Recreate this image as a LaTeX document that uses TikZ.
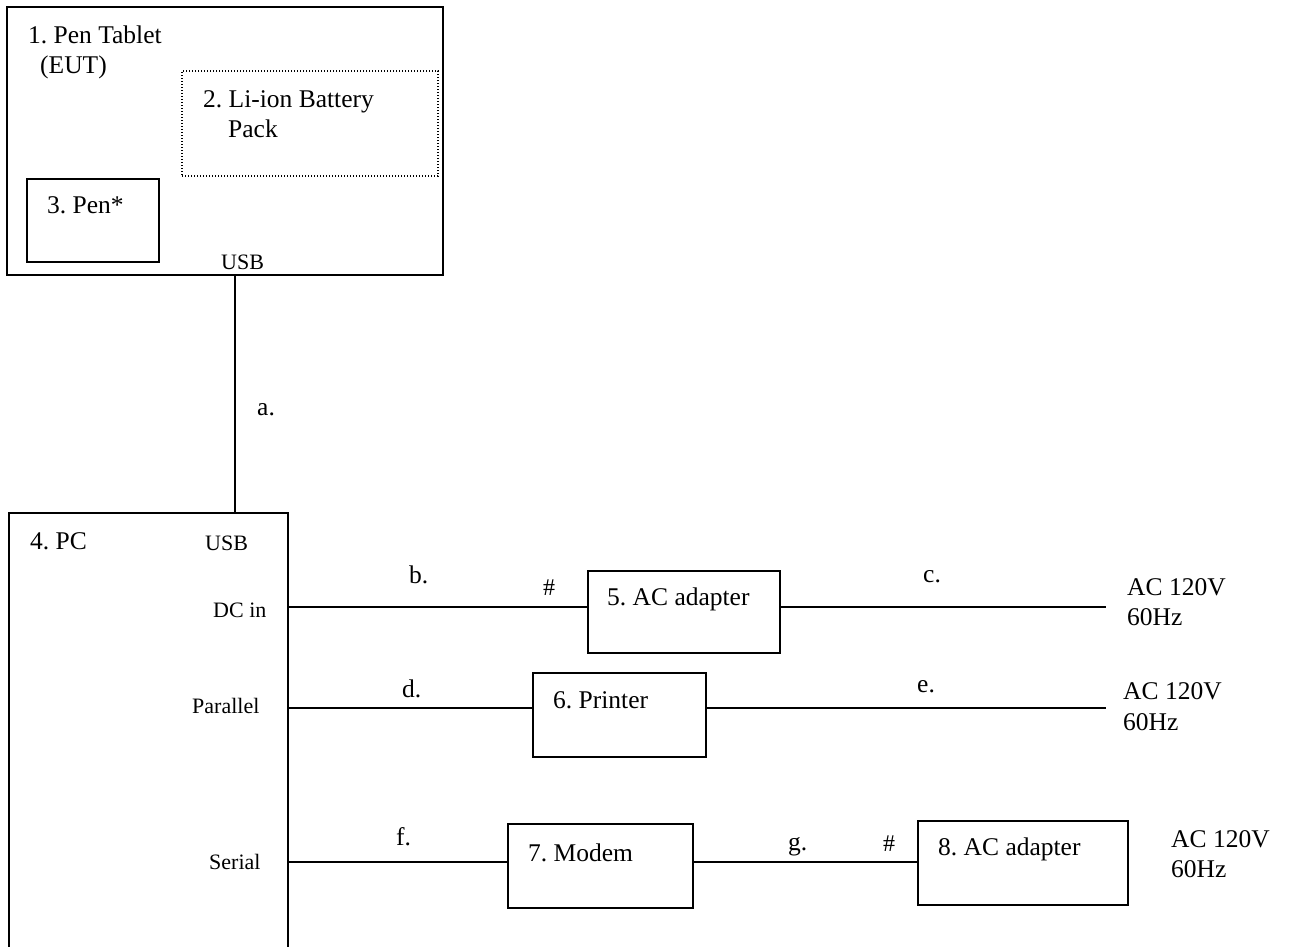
\documentclass[tikz,border=0pt]{standalone}
\usepackage{fontspec}
\setmainfont{Liberation Serif}
\frenchspacing
\begin{document}
\begin{tikzpicture}[x=1pt,y=-1pt,
  box/.style={draw,line width=1.6pt,rectangle,inner sep=0pt,outer sep=0pt,anchor=north west},
  dotbox/.style={draw,line width=1.1pt,dash pattern=on 1.1pt off 1.9pt,rectangle,inner sep=0pt,outer sep=0pt,anchor=north west},
  big/.style={anchor=base west,inner sep=0pt,font=\fontsize{25.5}{29}\selectfont},
  small/.style={anchor=base west,inner sep=0pt,font=\fontsize{22}{26}\selectfont},
  wire/.style={line width=1.6pt}]
\useasboundingbox (0,0) rectangle (1290,946);
% boxes
\node[box,minimum width=436pt,minimum height=268pt] (tablet) at (7,7) {};
\node[dotbox,minimum width=256pt,minimum height=105pt] (battery) at (182,71) {};
\node[box,minimum width=132pt,minimum height=83pt] (pen) at (27,179) {};
\node[box,minimum width=279pt,minimum height=460pt] (pc) at (9,513) {};
\node[box,minimum width=192pt,minimum height=82pt] (ac5) at (588,571) {};
\node[box,minimum width=173pt,minimum height=84pt] (printer) at (533,673) {};
\node[box,minimum width=185pt,minimum height=84pt] (modem) at (508,824) {};
\node[box,minimum width=210pt,minimum height=84pt] (ac8) at (918,821) {};
% texts
\node[big] (t1) at (28,43) {1. Pen Tablet};
\node[big] (t1b) at (40,73) {(EUT)};
\node[big] (t2) at (203,107) {2. Li-ion Battery};
\node[big] (t2b) at (228,137) {Pack};
\node[big] (t3) at (47,213) {3. Pen*};
\node[small] (usb1) at (221,269) {USB};
\node[big] (t4) at (30,549) {4. PC};
\node[small] (usb2) at (205,550) {USB};
\node[small] (dcin) at (213,617) {DC in};
\node[small] (par) at (192,713) {Parallel};
\node[small] (ser) at (209,869) {Serial};
\node[big] (t5) at (607,605) {5. AC adapter};
\node[big] (t6) at (553,708) {6. Printer};
\node[big] (t7) at (528,861) {7. Modem};
\node[big] (t8) at (938,855) {8. AC adapter};
\node[big] (la) at (257,415) {a.};
\node[big] (lb) at (409,583) {b.};
\node[small,font=\fontsize{24}{28}\selectfont] (hash1) at (543,595) {\#};
\node[big] (lc) at (923,582) {c.};
\node[big] (ld) at (402,697) {d.};
\node[big] (le) at (917,692) {e.};
\node[big] (lf) at (396,845) {f.};
\node[big] (lg) at (788,850) {g.};
\node[small,font=\fontsize{24}{28}\selectfont] (hash2) at (883,851) {\#};
\node[big] (ac1) at (1127,595) {AC 120V};
\node[big] (hz1) at (1127,625) {60Hz};
\node[big] (ac2) at (1123,699) {AC 120V};
\node[big] (hz2) at (1123,730) {60Hz};
\node[big] (ac3) at (1171,847) {AC 120V};
\node[big] (hz3) at (1171,877) {60Hz};
% connectors
\coordinate (usbport) at (235,275);
\coordinate (dcport) at (288,607);
\coordinate (parport) at (288,708);
\coordinate (serport) at (288,862);
\coordinate (mains1) at (1106,607);
\coordinate (mains2) at (1106,708);
\draw[wire] (usbport) -- (usbport |- pc.north);
\draw[wire] (dcport) -- (dcport -| ac5.west);
\draw[wire] (dcport -| ac5.east) -- (mains1);
\draw[wire] (parport) -- (parport -| printer.west);
\draw[wire] (parport -| printer.east) -- (mains2);
\draw[wire] (serport) -- (serport -| modem.west);
\draw[wire] (serport -| modem.east) -- (serport -| ac8.west);
\end{tikzpicture}
\end{document}
